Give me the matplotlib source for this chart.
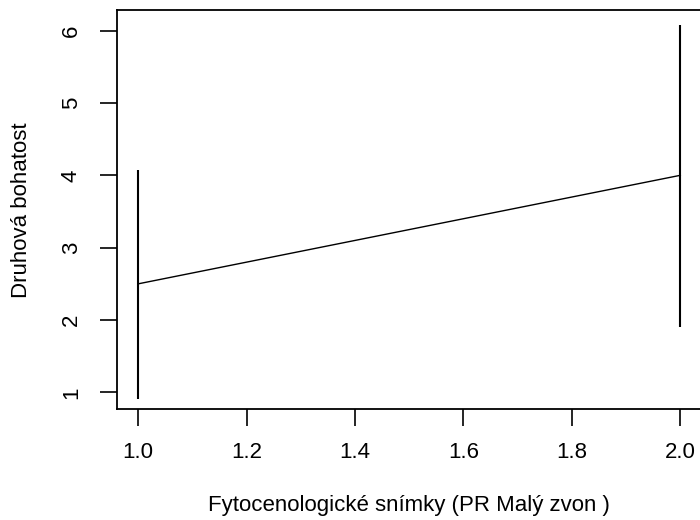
import matplotlib
matplotlib.use("Agg")
import matplotlib.pyplot as plt

plt.rcParams['font.family'] = ['Liberation Sans', 'DejaVu Sans']

x_vals = [1.0, 2.0]
means = [2.5, 4.0]
lower = [0.91, 1.91]
upper = [4.07, 6.08]
x_ticks = [1.0, 1.2, 1.4, 1.6, 1.8, 2.0]
y_ticks = [1, 2, 3, 4, 5, 6]

W, H = 700, 520
fig = plt.figure(figsize=(W / 100, H / 100), dpi=100)
ax = fig.add_axes([116.5 / W, (H - 409) / H, (702 - 116.5) / W, (409 - 10) / H])

ax.plot(x_vals, means, color='black', lw=1.0)
ax.vlines(x_vals, lower, upper, color='black', lw=1.5)

ax.set_xlim(0.96, 2.04)
ax.set_ylim(0.77, 6.285)
ax.set_xticks(x_ticks)
ax.set_xticklabels([f"{v:.1f}" for v in x_ticks])
ax.set_yticks(y_ticks)
ax.set_yticklabels([str(v) for v in y_ticks], rotation=90, va='center')
ax.tick_params(axis='both', length=12, width=1.2, labelsize=16, colors='black')
ax.tick_params(axis='x', pad=12)
ax.tick_params(axis='y', pad=13)
for s in ax.spines.values():
    s.set_linewidth(1.3)

fig.text(409 / W, 1 - 505 / H, "Fytocenologické snímky (PR Malý zvon )", ha='center', va='center', fontsize=16)
fig.text(22 / W, 1 - 210 / H, "Druhová bohatost", ha='center', va='center', fontsize=16, rotation=90)

fig.savefig("out.png", dpi=100)
